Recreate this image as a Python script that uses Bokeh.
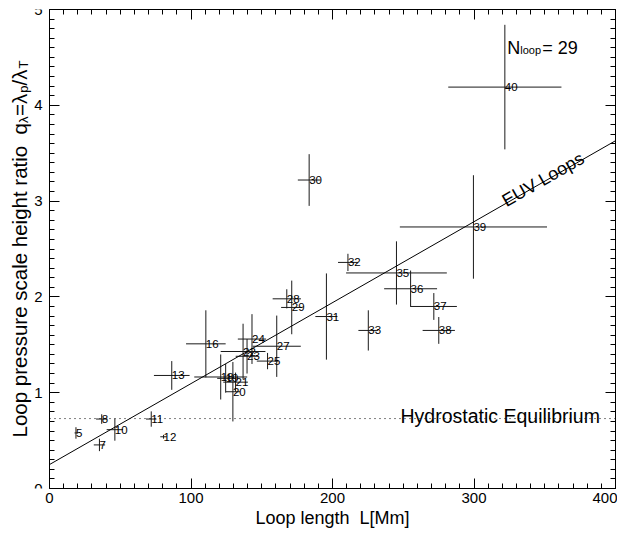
import math
from bokeh.plotting import figure
from bokeh.models import (ColumnDataSource, LinearAxis, SingleIntervalTicker,
                          Label, Range1d, Title, CustomJSTickFormatter)
from bokeh.embed import file_html
from bokeh.resources import INLINE
from bokeh.core.properties import value

# ---------------- data ----------------
loop_id = ["5", "7", "8", "10", "11", "12", "13", "16", "18", "19", "20", "21",
           "22", "23", "24", "25", "27", "28", "29", "30", "31", "32", "33",
           "35", "36", "37", "38", "39", "40"]
loop_len = [18.7, 35.3, 36.9, 46.2, 71.9, 80.6, 86.4, 110.5, 121.0, 124.5, 129.6, 131.5,
            136.8, 139.6, 143.1, 154.1, 160.6, 167.7, 171.2, 183.5, 195.7, 210.9, 225.3,
            245.2, 255.2, 271.6, 275.1, 299.6, 321.8]
ratio_q = [0.58, 0.455, 0.725, 0.614, 0.725, 0.54, 1.18, 1.51, 1.164, 1.15, 1.01, 1.11,
           1.43, 1.38, 1.56, 1.33, 1.485, 1.98, 1.89, 3.22, 1.795, 2.36, 1.65,
           2.25, 2.085, 1.90, 1.65, 2.73, 4.19]
err_len = [1.0, 4.0, 4.0, 5.8, 3.7, 2.3, 12.6, 14.0, 18.7, 6.0, 5.0, 8.7,
           15.8, 8.0, 10.0, 7.6, 17.0, 10.0, 7.5, 8.0, 7.8, 7.0, 7.0,
           35.6, 18.7, 16.3, 11.4, 52.0, 40.0]
err_q = [0.06, 0.065, 0.05, 0.115, 0.08, 0.02, 0.15, 0.35, 0.235, 0.15, 0.31, 0.10,
         0.29, 0.18, 0.26, 0.085, 0.32, 0.10, 0.28, 0.27, 0.45, 0.09, 0.21,
         0.33, 0.19, 0.14, 0.14, 0.54, 0.65]

fit_intercept = 0.25
fit_slope = 0.00845
hydrostatic_q = 0.73
n_loop = "= 29"

x_start, x_end, x_major = 0, 400, 100
y_start, y_end, y_major = 0, 5, 1

# ---------------- layout constants (pixels) ----------------
FONT = "Liberation Sans"
AXIS_X = 49          # pixel position of the left axis inside the frame
FW, FH = 615, 479    # frame size (frame starts at the canvas' left edge)
TOP = 9

px_x = (FW - AXIS_X) / (x_end - x_start)
px_y = FH / (y_end - y_start)
x_lo_range = x_start - AXIS_X / px_x

p = figure(frame_width=FW, frame_height=FH,
           x_range=Range1d(x_lo_range, x_end), y_range=Range1d(y_start, y_end),
           x_axis_type=None, y_axis_type=None,
           output_backend="svg", toolbar_location=None,
           min_border_left=0, min_border_right=2,
           min_border_top=TOP, min_border_bottom=0)
p.grid.visible = False
p.outline_line_color = None
p.background_fill_color = "white"
p.border_fill_color = "white"

blank = CustomJSTickFormatter(code="return ''")


def make_axis(ticker, bounds, labels=True, **kw):
    ax = LinearAxis(ticker=ticker, bounds=bounds, major_tick_in=10, major_tick_out=0,
                    minor_tick_in=5, minor_tick_out=0,
                    axis_line_color="black", major_tick_line_color="black",
                    minor_tick_line_color="black", **kw)
    if labels:
        ax.major_label_text_font = FONT
        ax.major_label_text_font_size = "15px"
        ax.major_label_text_color = "black"
    else:
        ax.formatter = blank
        ax.major_label_standoff = 0
    return ax


xt = SingleIntervalTicker(interval=x_major, num_minor_ticks=10)
yt = SingleIntervalTicker(interval=y_major, num_minor_ticks=10)

p.add_layout(make_axis(xt, (x_start, x_end), major_label_standoff=4), "below")
p.add_layout(make_axis(xt, (x_start, x_end), labels=False), "above")
p.add_layout(make_axis(yt, (y_start, y_end), major_label_standoff=7,
                       fixed_location=x_start), "left")
p.add_layout(make_axis(yt, (y_start, y_end), labels=False), "right")

# x-axis title, centred under the data area
XT_FS = 18
x_title = "Loop length \u00a0L[Mm]"
x_title_w = 8.56 * XT_FS
p.add_layout(Title(text=x_title, align="left",
                   offset=AXIS_X + (FW - AXIS_X) / 2 - x_title_w / 2, standoff=1,
                   text_font=FONT, text_font_size=f"{XT_FS}px", text_font_style="normal",
                   text_color="black"), "below")

# ---------------- data glyphs ----------------
src = ColumnDataSource(dict(
    L=loop_len, q=ratio_q, label=loop_id,
    x_lo=[a - b for a, b in zip(loop_len, err_len)],
    x_hi=[a + b for a, b in zip(loop_len, err_len)],
    q_lo=[a - b for a, b in zip(ratio_q, err_q)],
    q_hi=[a + b for a, b in zip(ratio_q, err_q)],
))
p.segment(x0="x_lo", y0="q", x1="x_hi", y1="q", source=src,
          line_color="#1a1a1a", line_width=1)
p.segment(x0="L", y0="q_lo", x1="L", y1="q_hi", source=src,
          line_color="#1a1a1a", line_width=1)
p.text(x="L", y="q", text="label", source=src, text_font=value(FONT),
       text_font_size="11.5px", text_align="left", text_baseline="alphabetic",
       text_color="black")

# fit line and hydrostatic level, across the data range
p.line(x=[x_start, x_end],
       y=[fit_intercept + fit_slope * x_start, fit_intercept + fit_slope * x_end],
       line_color="black", line_width=1)
p.line(x=[x_start, x_end], y=[hydrostatic_q, hydrostatic_q],
       line_color="black", line_width=1, line_dash="1 4")

# ---------------- annotations ----------------
p.add_layout(Label(x=389, y=hydrostatic_q, y_offset=3, text="Hydrostatic Equilibrium",
                   text_align="right", text_baseline="alphabetic",
                   text_font=FONT, text_font_size="19.5px", text_color="black"))

euv_angle = math.atan(fit_slope * px_y / px_x)
p.add_layout(Label(x=318, y=fit_intercept + fit_slope * 318, x_offset=4, y_offset=5,
                   angle=euv_angle, text="EUV Loops",
                   text_align="left", text_baseline="alphabetic",
                   text_font=FONT, text_font_size="18px", text_color="black"))

for txt, dx, dy, fs in [("N", 0, 0, "18px"), ("loop", 13, -2, "11px"), (n_loop, 35, 0, "18px")]:
    p.add_layout(Label(x=323.5, y=4.6, x_offset=dx, y_offset=dy, text=txt,
                       text_align="left", text_baseline="alphabetic",
                       text_font=FONT, text_font_size=fs, text_color="black"))

# rotated y-axis title with subscripts (drawn left of the axis, inside the frame)
F, S = 20.5, 13
pieces = [("Loop pressure scale height ratio \u00a0q", 15.341 * F, F, 0),
          ("\u03bb", 0.55 * S, S, 4),
          ("=\u03bb", 1.134 * F, F, 0),
          ("p", 0.556 * S, S, 4),
          ("/\u03bb", 0.828 * F, F, 0),
          ("T", 0.611 * S, S, 4)]
total = sum(w for _, w, _, _ in pieces)
title_x = x_lo_range + 19 / px_x
pos = -total / 2
for txt, w, fs, sub in pieces:
    p.add_layout(Label(x=title_x, y=(y_start + y_end) / 2, x_offset=sub, y_offset=pos,
                       angle=math.pi / 2, text=txt,
                       text_align="left", text_baseline="alphabetic",
                       text_font=FONT, text_font_size=f"{fs}px", text_color="black"))
    pos += w

open("out.html", "w").write(file_html(p, INLINE))
